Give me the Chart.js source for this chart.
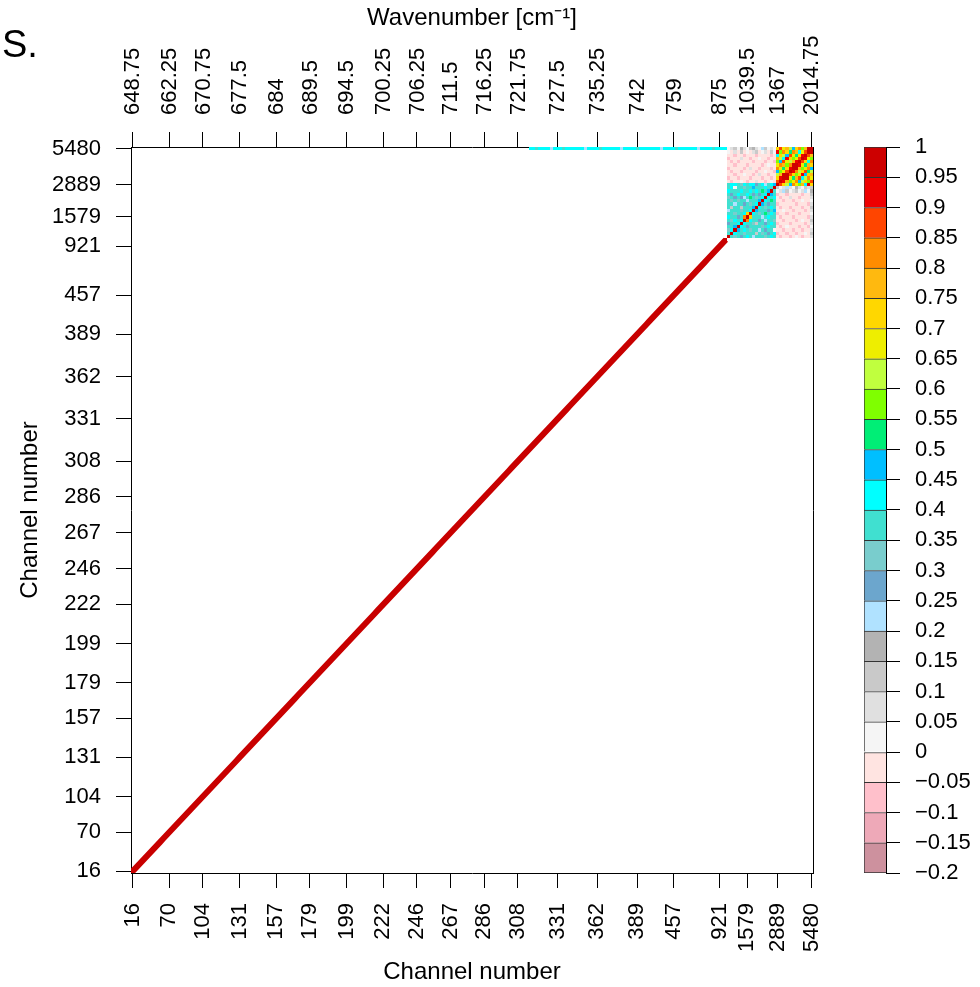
<!DOCTYPE html>
<html>
<head>
<meta charset="utf-8">
<script src="https://cdn.jsdelivr.net/npm/chart.js@4.4.0/dist/chart.umd.min.js"></script>
<style>
  body { margin: 0; background: #fff; }
  #wrap { position: relative; width: 980px; height: 987px; overflow: hidden; }
  canvas { position: absolute; top: 0; }
  #corrChart { left: 0; }
  #keyChart { left: 840px; }
  #panel { position: absolute; left: 2px; top: 25px; font: 38px 'Liberation Sans', Arial, sans-serif; line-height: 1; }
</style>
</head>
<body>
<div id="wrap">
  <canvas id="corrChart" width="980" height="987"></canvas>
  <canvas id="keyChart" width="140" height="987"></canvas>
  <div id="panel">S.</div>
</div>
<script>
Chart.defaults.font.family = "'Liberation Sans', Arial, sans-serif";
Chart.defaults.font.size = 22;
Chart.defaults.color = '#000';

const nChannels = 223;
const channelTicks = [16, 70, 104, 131, 157, 179, 199, 222, 246, 267, 286, 308, 331, 362, 389, 457, 921, 1579, 2889, 5480];
const tickIndex = [0, 12, 23, 35, 47, 58, 70, 82, 93, 104, 115, 126, 139, 152, 165, 177, 192, 201, 211, 222];
const wavenumberTicks = ['648.75', '662.25', '670.75', '677.5', '684', '689.5', '694.5', '700.25', '706.25', '711.5',
  '716.25', '721.75', '727.5', '735.25', '742', '759', '875', '1039.5', '1367', '2014.75'];

// correlations are only non-zero in the last block of channels (index 195..222)
const blockStart = 195;
// 195..210 with itself
const blockA = [
  [1, .37, .32, .37, .27, .37, .42, .37, .22, .37, .37, .37, .32, .37, .42, .37],
  [.37, 1, .42, .37, .37, .32, .37, .37, .37, .12, .37, .32, .37, .27, .37, .42],
  [.32, .42, 1, .47, .37, .42, .37, .32, .37, .37, .22, .37, .27, .37, .37, .02],
  [.37, .37, .47, 1, .42, .37, .27, .37, .37, .37, .37, .32, .37, .42, .37, .37],
  [.27, .37, .37, .42, 1, .42, .37, .37, .32, .12, .37, .37, .27, .37, .42, .37],
  [.37, .32, .42, .37, .42, 1, .82, .42, .37, .37, .27, .37, .22, .37, .37, .32],
  [.42, .37, .37, .27, .37, .82, 1, .72, .37, .37, .37, .22, .37, .42, .37, .37],
  [.37, .37, .32, .37, .37, .42, .72, 1, .42, .37, .32, .37, .52, .37, .42, .37],
  [.22, .37, .37, .37, .32, .37, .37, .42, 1, .47, .37, .37, .37, .27, .37, .47],
  [.37, .12, .37, .37, .12, .37, .37, .37, .47, 1, .42, .37, .32, .37, .42, .37],
  [.37, .37, .22, .37, .37, .27, .37, .32, .37, .42, 1, .47, .37, .27, .37, .37],
  [.37, .32, .37, .32, .37, .37, .22, .37, .37, .37, .47, 1, .42, .37, .52, .37],
  [.32, .37, .27, .37, .27, .22, .37, .52, .37, .32, .37, .42, 1, .42, .37, .42],
  [.37, .27, .37, .42, .37, .37, .42, .37, .27, .37, .27, .37, .42, 1, .47, .37],
  [.42, .37, .37, .37, .42, .37, .37, .42, .37, .42, .37, .52, .37, .47, 1, .37],
  [.37, .42, .02, .37, .37, .32, .37, .37, .47, .37, .37, .37, .42, .37, .37, 1]
];
// rows 195..210, columns 211..222
const blockAC = [
  [-.03, -.08, -.03, -.03, -.08, -.03, .02, -.03, -.08, -.03, -.03, .07],
  [-.08, -.03, -.03, -.08, -.03, -.03, -.08, -.03, -.03, .02, -.03, .12],
  [-.03, -.03, -.08, -.03, -.03, -.08, -.03, -.03, -.08, -.03, -.03, .07],
  [-.03, -.08, -.03, .02, -.03, -.03, -.03, -.08, -.03, -.03, -.08, .02],
  [-.08, -.03, -.03, -.03, -.08, -.03, -.03, -.03, -.03, -.08, -.03, .07],
  [-.03, -.03, -.08, -.03, -.03, -.03, -.08, -.03, .02, -.03, -.03, .12],
  [-.03, -.08, -.03, -.03, -.03, -.08, -.03, -.03, -.03, -.03, -.08, .07],
  [-.08, -.03, -.03, -.08, -.03, -.03, -.03, -.08, -.03, -.03, -.03, .02],
  [-.03, -.03, .02, -.03, -.03, -.08, -.03, -.03, -.03, -.08, -.03, .07],
  [-.03, -.08, -.03, -.03, -.08, -.03, -.03, -.03, -.08, -.03, -.03, .12],
  [-.08, -.03, -.03, -.03, -.03, -.03, -.08, -.03, -.03, -.03, -.08, .07],
  [-.03, -.03, -.08, -.03, -.03, -.08, -.03, -.03, .02, -.03, -.03, .02],
  [-.03, -.08, -.03, -.03, .07, -.03, -.03, -.08, -.03, -.03, -.03, .07],
  [-.08, -.03, -.03, -.08, -.03, -.03, -.03, -.03, -.08, -.03, -.03, .12],
  [.02, .07, .22, .12, .02, .07, .12, .02, .07, .22, .02, .17],
  [.12, .02, .07, .22, .07, .02, .17, .07, .02, .12, .07, .12]
];
// rows 211..222, columns 195..210
const blockCA = [
  [.37, .42, .42, .37, .32, .42, .37, .42, .42, .27, .37, .42, .22, .37, .42, .47],
  [-.03, -.08, -.03, -.03, .02, -.03, -.08, -.03, -.03, .07, -.03, -.03, -.08, -.03, .02, -.03],
  [-.08, -.03, -.03, -.08, -.03, -.03, -.03, -.08, -.03, -.03, -.03, -.08, -.03, -.03, -.08, -.03],
  [-.03, -.03, -.08, -.03, -.03, .02, -.03, -.03, -.08, -.03, .07, -.03, -.03, -.08, -.03, -.03],
  [-.03, -.08, -.03, -.03, -.08, -.03, -.03, -.03, -.03, -.08, -.03, -.03, .02, -.03, -.03, -.08],
  [-.08, -.03, -.03, -.03, -.03, -.08, -.03, .07, -.03, -.03, -.08, -.03, -.03, -.03, -.08, -.03],
  [-.03, -.03, -.08, -.03, -.03, -.03, -.08, -.03, -.03, -.03, -.03, -.08, -.03, .02, -.03, -.03],
  [-.03, -.08, -.03, -.08, -.03, -.03, -.03, -.03, -.08, -.03, -.03, -.03, -.08, -.03, -.03, -.08],
  [-.08, -.03, -.03, -.03, .07, -.03, -.03, -.08, -.03, -.03, .02, -.03, -.03, -.08, -.03, -.03],
  [-.03, -.03, -.08, -.03, -.03, -.08, -.03, -.03, -.03, -.08, -.03, -.03, -.03, -.03, -.08, -.03],
  [.02, -.03, .07, -.03, .12, -.03, .02, -.03, .07, .12, -.03, .02, .07, -.03, .12, .02],
  [.02, .07, .12, .02, .17, .07, .02, .12, .17, .07, .02, .22, .12, .02, .07, .02]
];
// 211..222 with itself
const blockC = [
  [1, .87, .72, .62, .47, .82, .67, .57, .77, .42, .92, .72],
  [.87, 1, .92, .77, .57, .67, .82, .47, .62, .72, .57, .87],
  [.72, .92, 1, .97, .67, .52, .77, .87, .42, .62, .82, .67],
  [.62, .77, .97, 1, .87, .72, .57, .67, .92, .47, .72, .77],
  [.47, .57, .67, .87, 1, .92, .82, .62, .72, .87, .52, .62],
  [.82, .67, .52, .72, .92, 1, .97, .77, .57, .67, .82, .47],
  [.67, .82, .77, .57, .82, .97, 1, .92, .67, .52, .77, .72],
  [.57, .47, .87, .67, .62, .77, .92, 1, .87, .72, .42, .82],
  [.77, .62, .42, .92, .72, .57, .67, .87, 1, .92, .67, .57],
  [.42, .72, .62, .47, .87, .67, .52, .72, .92, 1, .87, .77],
  [.92, .57, .82, .72, .52, .82, .77, .42, .67, .87, 1, .97],
  [.72, .87, .67, .77, .62, .47, .72, .82, .57, .77, .97, 1]
];
// channel 5480 (top row) against channels index 130..194
const topRowStart = 130;
const topRowValues = [
  .42, .42, .37, .42, .42, .42, .42, .22, .42, .42,
  .42, .37, .42, .42, .42, .42, .42, .42, .22, .42,
  .42, .42, .42, .37, .42, .42, .42, .42, .42, .42,
  .22, .42, .42, .42, .42, .37, .42, .42, .42, .42,
  .42, .42, .42, .22, .42, .42, .42, .42, .37, .42,
  .42, .42, .42, .42, .42, .22, .42, .42, .42, .42,
  .37, .42, .42, .42, .42
];

const levels = [-0.2, -0.15, -0.1, -0.05, 0, 0.05, 0.1, 0.15, 0.2, 0.25, 0.3, 0.35, 0.4,
  0.45, 0.5, 0.55, 0.6, 0.65, 0.7, 0.75, 0.8, 0.85, 0.9, 0.95, 1];
const levelLabels = ['\u22120.2', '\u22120.15', '\u22120.1', '\u22120.05', '0', '0.05', '0.1', '0.15', '0.2', '0.25',
  '0.3', '0.35', '0.4', '0.45', '0.5', '0.55', '0.6', '0.65', '0.7', '0.75', '0.8', '0.85', '0.9', '0.95', '1'];
const levelColors = ['#CD919E', '#EEA9B8', '#FFC0CB', '#FFE4E1', '#F5F5F5', '#E0E0E0', '#C9C9C9', '#B3B3B3',
  '#B0E2FF', '#6CA6CD', '#79CDCD', '#40E0D0', '#00FFFF', '#00BFFF', '#00EE76', '#7FFF00',
  '#C0FF3E', '#EEEE00', '#FFD700', '#FFB90F', '#FF8C00', '#FF4500', '#EE0000', '#CD0000'];

function colorFor(v) {
  for (let i = 0; i < levelColors.length - 1; i++) {
    if (v < levels[i + 1]) return levelColors[i];
  }
  return levelColors[levelColors.length - 1];
}

const cells = [];
const diagonal = [];
for (let i = 0; i < blockStart; i++) {
  cells.push({x: i, y: i, v: 1});
  diagonal.push({x: i, y: i});
}
blockA.forEach((row, r) => row.concat(blockAC[r]).forEach((v, c) => cells.push({x: blockStart + c, y: blockStart + r, v})));
blockCA.forEach((row, r) => row.concat(blockC[r]).forEach((v, c) => cells.push({x: blockStart + c, y: blockStart + 16 + r, v})));
topRowValues.forEach((v, c) => cells.push({x: topRowStart + c, y: nChannels - 1, v}));

// fill each cell as a rectangle on the chart scales
const cellPlugin = {
  id: 'cells',
  beforeDatasetsDraw(chart) {
    const {ctx, chartArea, scales: {x, y}} = chart;
    ctx.save();
    ctx.beginPath();
    ctx.rect(chartArea.left, chartArea.top, chartArea.width, chartArea.height);
    ctx.clip();
    chart.data.datasets[0].data.forEach(p => {
      const x0 = Math.round(x.getPixelForValue(p.x - 0.5));
      const x1 = Math.round(x.getPixelForValue(p.x + 0.5));
      const y0 = Math.round(y.getPixelForValue(p.y + 0.5));
      const y1 = Math.round(y.getPixelForValue(p.y - 0.5));
      ctx.fillStyle = colorFor(p.v);
      ctx.fillRect(x0, y0, x1 - x0, y1 - y0);
    });
    ctx.restore();
  }
};

const titleFont = {size: 24};
const axisBase = {
  type: 'linear',
  min: -0.5,
  max: nChannels - 0.5,
  z: 1,
  afterBuildTicks: s => { s.ticks = tickIndex.map(v => ({value: v})); },
  grid: {drawOnChartArea: false, tickLength: 15, color: '#000'},
  border: {color: '#000', width: 1}
};

new Chart(document.getElementById('corrChart'), {
  type: 'scatter',
  data: {
    datasets: [
      {data: cells, pointRadius: 0, pointHoverRadius: 0},
      {type: 'line', data: diagonal, borderColor: '#C80000', borderWidth: 6, pointRadius: 0, fill: false}
    ]
  },
  plugins: [cellPlugin],
  options: {
    responsive: false,
    animation: false,
    events: [],
    layout: {padding: {right: 167}},
    plugins: {legend: {display: false}, tooltip: {enabled: false}},
    scales: {
      x: {
        ...axisBase,
        position: 'bottom',
        ticks: {autoSkip: false, minRotation: 90, maxRotation: 90, padding: 15, callback: (v, i) => channelTicks[i]},
        title: {display: true, text: 'Channel number', font: titleFont, padding: {top: 0, bottom: 0}},
        afterFit: s => { s.height = 114; }
      },
      xTop: {
        ...axisBase,
        axis: 'x',
        position: 'top',
        ticks: {autoSkip: false, minRotation: 90, maxRotation: 90, padding: 17, labelOffset: 27,
          callback: (v, i) => wavenumberTicks[i]},
        title: {display: true, text: 'Wavenumber [cm\u207B\u00B9]', font: titleFont, padding: {top: 4, bottom: 0}},
        afterFit: s => { s.height = 147; }
      },
      y: {
        ...axisBase,
        position: 'left',
        ticks: {autoSkip: false, padding: 15, callback: (v, i) => channelTicks[i]},
        title: {display: true, text: 'Channel number', font: titleFont, padding: {top: 16, bottom: 0}},
        afterFit: s => { s.width = 131; }
      },
      yRight: {
        type: 'linear',
        axis: 'y',
        position: 'right',
        min: -0.5,
        max: nChannels - 0.5,
        z: 1,
        ticks: {display: false},
        grid: {display: false, drawTicks: false},
        border: {color: '#000', width: 1},
        afterFit: s => { s.width = 0; }
      }
    }
  }
});

// colour key
new Chart(document.getElementById('keyChart'), {
  type: 'bar',
  data: {
    labels: [''],
    datasets: levelColors.map((c, i) => ({
      data: [[levels[i], levels[i + 1]]],
      backgroundColor: c,
      borderColor: '#333',
      borderWidth: {top: 1, left: 1, right: 0, bottom: i === 0 ? 1 : 0},
      borderSkipped: false,
      barPercentage: 1,
      categoryPercentage: 1,
      grouped: false
    }))
  },
  options: {
    responsive: false,
    animation: false,
    events: [],
    layout: {padding: {top: 147, bottom: 114, left: 24}},
    plugins: {legend: {display: false}, tooltip: {enabled: false}},
    scales: {
      x: {display: false},
      y: {
        position: 'right',
        min: -0.2,
        max: 1,
        afterBuildTicks: s => { s.ticks = levels.map(v => ({value: v})); },
        ticks: {autoSkip: false, padding: 15, callback: (v, i) => levelLabels[i]},
        grid: {drawOnChartArea: false, tickLength: 14, color: '#000'},
        border: {color: '#000', width: 1},
        afterFit: s => { s.width = 94; }
      }
    }
  }
});
</script>
</body>
</html>
